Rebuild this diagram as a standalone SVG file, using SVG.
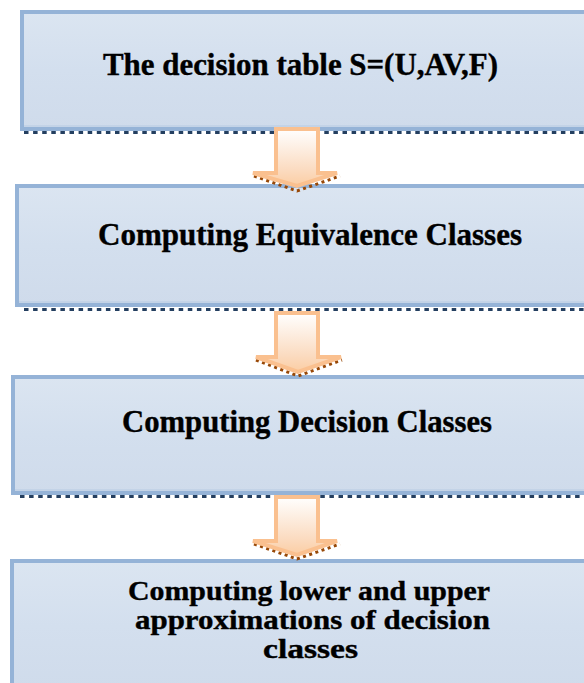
<svg xmlns="http://www.w3.org/2000/svg" width="584" height="683" viewBox="0 0 584 683">
  <style>
    .box { stroke: #95b3d7; stroke-width: 4; fill: url(#boxFill); }
    .shade { fill: #c3d3e7; }
    .dots { stroke: #243f60; stroke-width: 3; stroke-dasharray: 4.5 4.6; fill: none; }
    .label { font-family: "Liberation Serif", "Times New Roman", serif; font-weight: bold; fill: #000; stroke: #000; stroke-width: 0.4; }
    .arrow { fill: url(#arrowFill); stroke: #fac08f; stroke-width: 4; stroke-linejoin: miter; }
    .shadow { fill: none; stroke: #984807; stroke-width: 3; stroke-dasharray: 3 3.5; }
  </style>
  <defs>
    <linearGradient id="boxFill" x1="0" y1="0" x2="0" y2="1">
      <stop offset="0" stop-color="#dbe5f1"/>
      <stop offset="0.5" stop-color="#d3dfee"/>
      <stop offset="1" stop-color="#cfdbeb"/>
    </linearGradient>
    <linearGradient id="arrowFill" x1="0" y1="0" x2="0" y2="1">
      <stop offset="0" stop-color="#ffffff"/>
      <stop offset="0.7" stop-color="#fbdcc2"/>
      <stop offset="1" stop-color="#fbcda3"/>
    </linearGradient>
  </defs>

  <!-- process steps -->
  <g id="step1">
    <rect class="box" x="22" y="12" width="600" height="117"/>
    <rect class="shade" x="24" y="125" width="600" height="2"/>
    <line class="dots" x1="24" y1="132.5" x2="584" y2="132.5"/>
    <text class="label" x="103" y="75" font-size="31" textLength="395" lengthAdjust="spacingAndGlyphs">The decision table S=(U,AV,F)</text>
  </g>

  <g id="step2">
    <rect class="box" x="17" y="186" width="600" height="119"/>
    <rect class="shade" x="19" y="301" width="600" height="2"/>
    <line class="dots" x1="24" y1="309.5" x2="584" y2="309.5"/>
    <text class="label" x="98" y="245" font-size="32" textLength="424" lengthAdjust="spacingAndGlyphs">Computing Equivalence Classes</text>
  </g>

  <g id="step3">
    <rect class="box" x="13" y="377" width="600" height="116"/>
    <rect class="shade" x="15" y="489" width="600" height="2"/>
    <line class="dots" x1="20" y1="496.5" x2="584" y2="496.5"/>
    <text class="label" x="122" y="432" font-size="32" textLength="370" lengthAdjust="spacingAndGlyphs">Computing Decision Classes</text>
  </g>

  <g id="step4">
    <rect class="box" x="12" y="561" width="600" height="130"/>
    <text class="label" x="128" y="600" font-size="28" textLength="362" lengthAdjust="spacingAndGlyphs">Computing lower and upper</text>
    <text class="label" x="135" y="629" font-size="28" textLength="355" lengthAdjust="spacingAndGlyphs">approximations of decision</text>
    <text class="label" x="263" y="658" font-size="28" textLength="95" lengthAdjust="spacingAndGlyphs">classes</text>
  </g>

  <!-- block arrows between steps -->
  <g id="connectors">
    <g id="arrow1">
      <polyline class="shadow" points="254,176 297,191 340,176"/>
      <path class="arrow" d="M276,129 H318 V173 H337 L297,186 L253,173 H276 Z"/>
    </g>
    <g id="arrow2">
      <polyline class="shadow" points="256,360 298,376 342,360"/>
      <path class="arrow" d="M276,313 H318 V357 H341 L298,372 L256,357 H276 Z"/>
    </g>
    <g id="arrow3">
      <polyline class="shadow" points="254,544 297,559 340,544"/>
      <path class="arrow" d="M276,497 H318 V541 H337 L297,555 L253,541 H276 Z"/>
    </g>
  </g>
</svg>
